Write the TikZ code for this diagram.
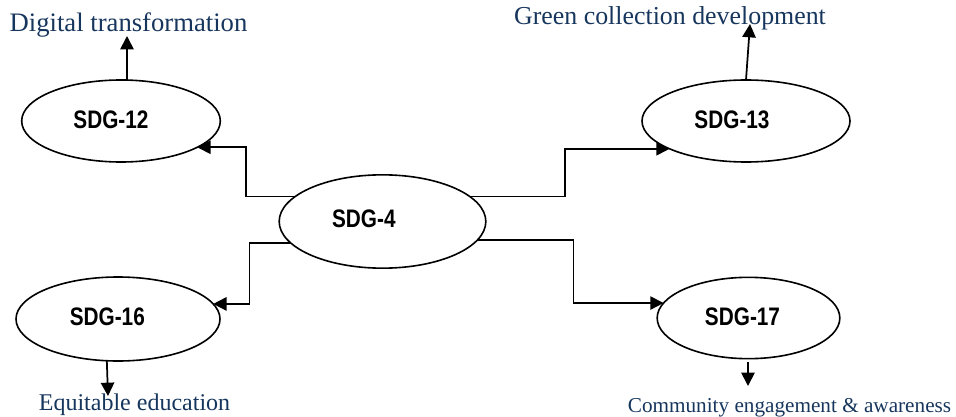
\documentclass[tikz,border=0pt]{standalone}
\usepackage{fontspec}
\setmainfont{Liberation Serif}
\newfontfamily\sdgfont[FakeStretch=0.82]{Liberation Sans}
\usetikzlibrary{shapes.geometric,arrows.meta}
\definecolor{txtblue}{HTML}{17365D}
\newcommand{\offtext}[3]{\raisebox{#2}{\hspace*{#1}\makebox[0pt]{#3}\hspace*{-#1}}}
\tikzset{
  sdg/.style={draw, ellipse, line width=1.2pt, inner sep=0pt, outer sep=0pt,
    font=\sdgfont\bfseries\fontsize{19}{22}\selectfont},
  conn/.style={line width=1.3pt, -{Triangle[length=10pt,width=10pt]}},
  lbl/.style={text=txtblue, inner sep=0pt, anchor=base}
}
\begin{document}
\begin{tikzpicture}[x=0.75pt,y=-0.75pt]
\useasboundingbox (0,0) rectangle (956,417);
% ellipses
\node[sdg, minimum width=149pt, minimum height=61.5pt] (s12) at (121,121) {\offtext{-7.5pt}{1.5pt}{SDG-12}};
\node[sdg, minimum width=156pt, minimum height=61.5pt] (s13) at (746,121) {\offtext{-10.5pt}{1.5pt}{SDG-13}};
\node[sdg, minimum width=155pt, minimum height=70pt] (s4) at (382.5,221.5) {\offtext{-14pt}{4.5pt}{SDG-4}};
\node[sdg, minimum width=153pt, minimum height=63pt] (s16) at (118,319) {\offtext{-8pt}{3pt}{SDG-16}};
\node[sdg, minimum width=137pt, minimum height=61pt] (s17) at (748.5,318) {\offtext{-4.5pt}{2pt}{SDG-17}};
% labels
\node[lbl, font=\fontsize{20}{24}\selectfont] (t12) at (128.5,32) {Digital transformation};
\node[lbl, font=\fontsize{19.4}{23}\selectfont] (t13) at (670,25) {Green collection development};
\node[lbl, font=\fontsize{18}{22}\selectfont] (t16) at (134.5,410) {Equitable education};
\node[lbl, font=\fontsize{15.9}{19}\selectfont] (t17) at (789.5,412) {Community engagement \& awareness};
% free ends
\coordinate (a12) at (127,36);
\coordinate (a13) at (750,24);
\coordinate (a16) at (108,396);
\coordinate (b17) at (748,362);
\coordinate (a17) at (748,386);
% connectors from SDG-4
\draw[conn] (s4.164) -- ++(-49,0) |- (s12.-19);
\draw[conn] (s4.16) -- ++(95,0) |- (s13.200);
\draw[conn] (s4.193) -- ++(-41,0) |- (s16.9);
\draw[conn] (s4.-11) -- ++(96,0) |- (s17.170);
% outcome arrows
\draw[conn] (s12.north -| a12) -- (a12);
\draw[conn] (s13.north) -- (a13);
\draw[conn] (s16.255) -- (a16);
\draw[conn] (b17) -- (a17);
\end{tikzpicture}
\end{document}
